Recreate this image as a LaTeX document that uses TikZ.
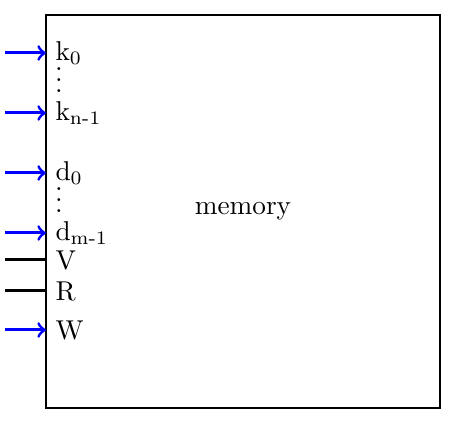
\documentclass[tikz,border=0pt]{standalone}
\newcommand{\pindots}{\vbox{\baselineskip4pt\lineskiplimit0pt\hbox{.}\hbox{.}\hbox{.}}}
\begin{document}
\begin{tikzpicture}[
    x=0.0129cm,
    y=-0.0129cm,
    membox/.style={
        draw=black,
        line width=0.8pt,
        minimum width=5.08cm,
        minimum height=5.07cm
    },
    pin/.style={
        anchor=west,
        inner sep=3.3pt
    },
    dotsbox/.style={
        inner sep=0pt
    },
    arrow/.style={
        ->,
        line width=1.1pt,
        draw=blue
    },
    wire/.style={
        line width=1.1pt,
        draw=black
    }
]
    \useasboundingbox (0,0) rectangle (456,433);

    % Paměť
    \node[membox] (mem) at (243,211.5) {memory};

    % Vstupy se šipkou
    \foreach \y/\name/\lbl in {
        53/k0/{k\textsubscript{0}},
        113/kn/{k\textsubscript{n-1}},
        173/d0/{d\textsubscript{0}},
        233/dm/{d\textsubscript{m-1}},
        330/w/{W}
    }{
        \node[pin] (\name) at (46,\y) {\lbl};
        \coordinate (s\name) at (5,\y);
        \draw[arrow] (s\name) -- (\name.west);
    }

    % Vstupy bez šipky
    \foreach \y/\name/\lbl in {
        260/v/{V},
        291/r/{R}
    }{
        \node[pin] (\name) at (46,\y) {\lbl};
        \coordinate (s\name) at (5,\y);
        \draw[wire] (s\name) -- (\name.west);
    }

    % Tečky
    \node[dotsbox] (kdots) at (59,80) {\pindots};
    \node[dotsbox] (ddots) at (59,200) {\pindots};

\end{tikzpicture}
\end{document}
